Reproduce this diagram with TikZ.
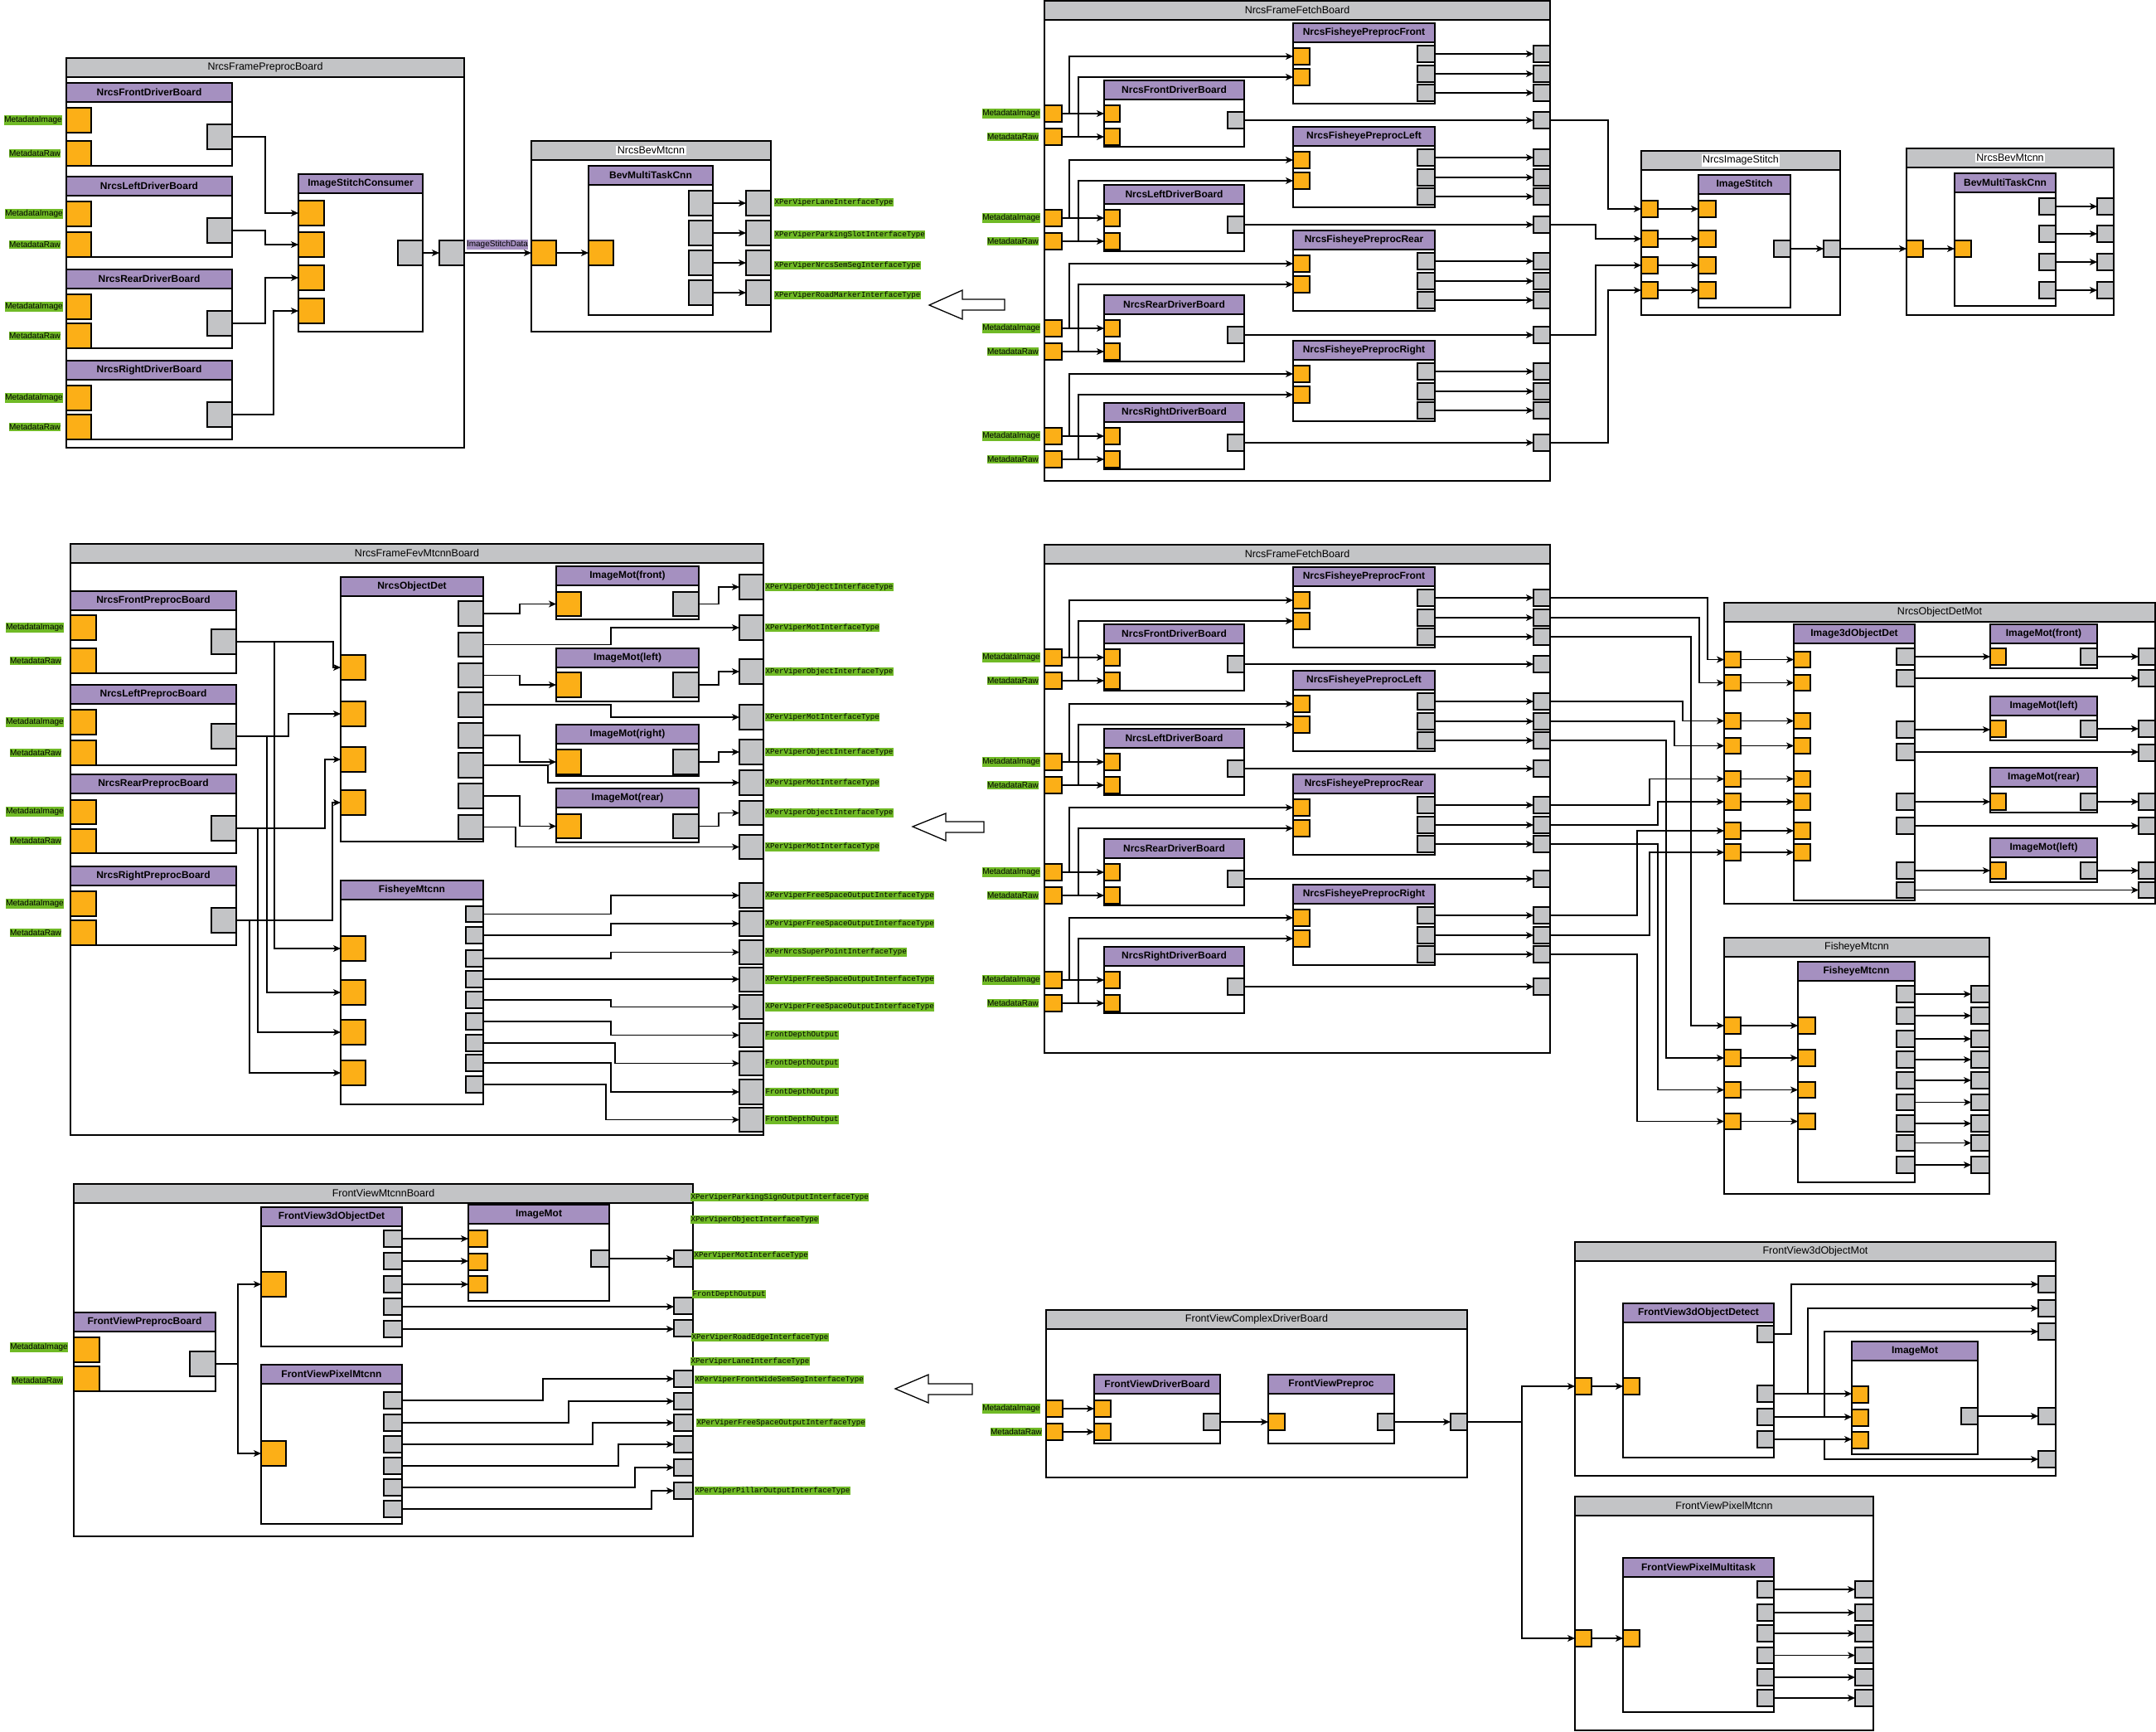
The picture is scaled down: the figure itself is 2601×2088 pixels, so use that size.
\documentclass[tikz,border=0pt]{standalone}
\usepackage{fontspec}
\setmainfont{Liberation Sans}
\newfontfamily\monofont{Liberation Mono}
\usetikzlibrary{arrows.meta}
\definecolor{hgray}{RGB}{195,196,198}
\definecolor{lpurple}{RGB}{165,144,192}
\definecolor{porange}{RGB}{252,175,23}
\definecolor{lgreen}{RGB}{112,186,38}

\tikzset{
  lanebody/.style={draw=black, line width=1.3pt, fill=white, inner sep=0pt, outer sep=0pt},
  grayhead/.style={draw=black, line width=1.3pt, fill=hgray, inner sep=0pt, outer sep=0pt, font=\fontsize{12.5}{14}\selectfont},
  purphead/.style={draw=black, line width=1.3pt, fill=lpurple, inner sep=0pt, outer sep=0pt, font=\fontsize{12}{14}\selectfont\bfseries},
  oport/.style={draw=black, line width=1.2pt, fill=porange, inner sep=0pt, outer sep=0pt},
  gport/.style={draw=black, line width=1.2pt, fill=hgray, inner sep=0pt, outer sep=0pt},
  conn/.style={draw=black, line width=1.1pt, -{Stealth[length=9pt,width=8pt,inset=2.5pt]}},
  mlbl/.style={fill=lgreen, inner xsep=0.5pt, inner ysep=1pt, font=\fontsize{10}{11}\selectfont},
  tlbl/.style={fill=lgreen, inner xsep=0.5pt, inner ysep=1pt, anchor=west, font=\monofont\fontsize{9.15}{10}\selectfont},
  plbl/.style={fill=lpurple, inner xsep=0.5pt, inner ysep=1pt, font=\fontsize{10}{11}\selectfont},
  wtitle/.style={fill=white, inner sep=1.5pt, font=\fontsize{12.5}{14}\selectfont},
  hollow/.style={draw=black, line width=1.3pt, fill=white, line join=miter},
}

% container with a 23pt title bar: name, x1, y1, x2, y2, title style, title
\newcommand\lane[7]{%
  \node[lanebody, minimum width={(#4)-(#2)}, minimum height={(#5)-(#3)}, anchor=north west] (#1) at (#2,#3) {};
  \node[#6, minimum width={(#4)-(#2)}, minimum height=23, anchor=north west] (#1h) at (#2,#3) {#7};}
% port square: style, name, x1, y1, x2, y2
\newcommand\prt[6]{%
  \node[#1, minimum width={(#5)-(#3)}, minimum height={(#6)-(#4)}, anchor=north west] (#2) at (#3,#4) {};}
% elbow connector through a vertical at x = #2
\newcommand\conhv[3]{\draw[conn] (#1.east) -- (#1.east -| #2,0) |- (#3.west);}
% straight horizontal connector
\newcommand\conhh[2]{\draw[conn] (#1.east) -- (#1.east -| #2.west);}

% one camera group of a fetch board: prefix, index, driver top, fisheye top, side
\newcommand\fetchgroup[5]{%
  \lane{#1d#2}{1332}{#3}{1501}{#3+80}{purphead}{Nrcs#5DriverBoard}
  \lane{#1f#2}{1560}{#4}{1731}{#4+97}{purphead}{NrcsFisheyePreproc#5}
  \prt{oport}{#1i#2}{1260}{#3+30}{1281}{#3+50}
  \prt{oport}{#1r#2}{1260}{#3+58}{1281}{#3+78}
  \prt{oport}{#1da#2}{1332}{#3+30}{1351}{#3+50}
  \prt{oport}{#1db#2}{1332}{#3+58}{1351}{#3+78}
  \prt{gport}{#1do#2}{1481}{#3+38}{1501}{#3+58}
  \prt{oport}{#1fa#2}{1560}{#4+30}{1580}{#4+50}
  \prt{oport}{#1fb#2}{1560}{#4+55}{1580}{#4+75}
  \prt{gport}{#1fo#2a}{1710}{#4+27}{1731}{#4+47}
  \prt{gport}{#1fo#2b}{1710}{#4+51}{1731}{#4+71}
  \prt{gport}{#1fo#2c}{1710}{#4+74}{1731}{#4+94}
  \prt{gport}{#1bo#2a}{1850}{#4+27}{1870}{#4+47}
  \prt{gport}{#1bo#2b}{1850}{#4+51}{1870}{#4+71}
  \prt{gport}{#1bo#2c}{1850}{#4+74}{1870}{#4+94}
  \prt{gport}{#1bo#2d}{1850}{#3+38}{1870}{#3+58}
  \node[mlbl] (#1li#2) at (1220,#3+40) {MetadataImage};
  \node[mlbl] (#1lr#2) at (1222,#3+68) {MetadataRaw};
  \conhh{#1i#2}{#1da#2}
  \conhh{#1r#2}{#1db#2}
  \conhv{#1i#2}{1290}{#1fa#2}
  \conhv{#1r#2}{1301}{#1fb#2}
  \conhh{#1fo#2a}{#1bo#2a}
  \conhh{#1fo#2b}{#1bo#2b}
  \conhh{#1fo#2c}{#1bo#2c}
  \conhh{#1do#2}{#1bo#2d}}

% full fetch board: prefix, vertical offset, bottom edge
\newcommand\fetchboard[3]{%
  \begin{scope}[yshift=-#2pt]
    \lane{#1}{1260}{1}{1870}{#3}{grayhead}{NrcsFrameFetchBoard}
    \fetchgroup{#1}{1}{97}{28}{Front}
    \fetchgroup{#1}{2}{223}{153}{Left}
    \fetchgroup{#1}{3}{356}{278}{Rear}
    \fetchgroup{#1}{4}{486}{411}{Right}
  \end{scope}}

\begin{document}
\begin{tikzpicture}[x=1pt, y=-1pt]
\fill[white] (0,0) rectangle (2601,2088);
\useasboundingbox (0,0) rectangle (2601,2088);

%% ---------------- NrcsFramePreprocBoard ----------------
\lane{pb}{80}{70}{560}{540}{grayhead}{NrcsFramePreprocBoard}
\lane{pbf}{80}{100}{280}{200}{purphead}{NrcsFrontDriverBoard}
\lane{pbl}{80}{213}{280}{310}{purphead}{NrcsLeftDriverBoard}
\lane{pbr}{80}{325}{280}{420}{purphead}{NrcsRearDriverBoard}
\lane{pbs}{80}{435}{280}{530}{purphead}{NrcsRightDriverBoard}
\lane{pbc}{360}{210}{510}{400}{purphead}{ImageStitchConsumer}
\prt{oport}{pbfi}{80}{130}{110}{160}
\prt{oport}{pbfr}{80}{170}{110}{200}
\prt{gport}{pbfo}{250}{150}{280}{180}
\prt{oport}{pbli}{80}{243}{110}{273}
\prt{oport}{pblr}{80}{280}{110}{310}
\prt{gport}{pblo}{250}{263}{280}{293}
\prt{oport}{pbri}{80}{355}{110}{385}
\prt{oport}{pbrr}{80}{390}{110}{420}
\prt{gport}{pbro}{250}{375}{280}{405}
\prt{oport}{pbsi}{80}{465}{110}{495}
\prt{oport}{pbsr}{80}{500}{110}{530}
\prt{gport}{pbso}{250}{485}{280}{515}
\prt{oport}{pbc1}{360}{242}{391}{272}
\prt{oport}{pbc2}{360}{280}{391}{310}
\prt{oport}{pbc3}{360}{320}{391}{350}
\prt{oport}{pbc4}{360}{360}{391}{390}
\prt{gport}{pbco}{480}{290}{510}{320}
\prt{gport}{pbout}{530}{290}{560}{320}
\node[mlbl] (pbfiL) at (40,145) {MetadataImage};
\node[mlbl] (pbfrL) at (42,185) {MetadataRaw};
\node[mlbl] (pbliL) at (41,258) {MetadataImage};
\node[mlbl] (pblrL) at (42,295) {MetadataRaw};
\node[mlbl] (pbriL) at (41,370) {MetadataImage};
\node[mlbl] (pbrrL) at (42,405) {MetadataRaw};
\node[mlbl] (pbsiL) at (41,480) {MetadataImage};
\node[mlbl] (pbsrL) at (42,515) {MetadataRaw};
\conhv{pbfo}{320}{pbc1}
\conhv{pblo}{320}{pbc2}
\conhv{pbro}{320}{pbc3}
\conhv{pbso}{330}{pbc4}
\conhh{pbco}{pbout}

%% ---------------- NrcsBevMtcnn (left) ----------------
\lane{bv}{641}{170}{930}{400}{grayhead}{}
\node[wtitle] (bvt) at (bvh) {NrcsBevMtcnn};
\lane{bvc}{710}{200}{860}{380}{purphead}{BevMultiTaskCnn}
\prt{oport}{bvin}{641}{290}{671}{320}
\prt{oport}{bvci}{710}{290}{740}{320}
\prt{gport}{bvc1}{831}{230}{860}{260}
\prt{gport}{bvc2}{831}{266}{860}{296}
\prt{gport}{bvc3}{831}{302}{860}{332}
\prt{gport}{bvc4}{831}{338}{860}{368}
\prt{gport}{bvo1}{900}{230}{930}{260}
\prt{gport}{bvo2}{900}{266}{930}{296}
\prt{gport}{bvo3}{900}{302}{930}{332}
\prt{gport}{bvo4}{900}{338}{930}{368}
\conhh{pbout}{bvin}
\node[plbl] (isd) at (600,295) {ImageStitchData};
\conhh{bvin}{bvci}
\conhh{bvc1}{bvo1}
\conhh{bvc2}{bvo2}
\conhh{bvc3}{bvo3}
\conhh{bvc4}{bvo4}
\node[tlbl] (bvl1) at (934,244) {XPerViperLaneInterfaceType};
\node[tlbl] (bvl2) at (934,283) {XPerViperParkingSlotInterfaceType};
\node[tlbl] (bvl3) at (934,320) {XPerViperNrcsSemSegInterfaceType};
\node[tlbl] (bvl4) at (934,356) {XPerViperRoadMarkerInterfaceType};

%% hollow arrows between the rows
\draw[hollow] (1121,368) -- (1161,350) -- (1161,361) -- (1212,361) -- (1212,374) -- (1161,374) -- (1161,385) -- cycle;
\draw[hollow] (1101,997) -- (1141,981) -- (1141,991) -- (1187,991) -- (1187,1004) -- (1141,1004) -- (1141,1014) -- cycle;
\draw[hollow] (1080,1675) -- (1120,1658) -- (1120,1669) -- (1173,1669) -- (1173,1682) -- (1120,1682) -- (1120,1692) -- cycle;

%% ---------------- NrcsFrameFetchBoard (top) ----------------
\fetchboard{t}{0}{580}

%% ---------------- NrcsImageStitch ----------------
\lane{st}{1980}{182}{2220}{380}{grayhead}{}
\node[wtitle] (stt) at (sth) {NrcsImageStitch};
\lane{stc}{2049}{211}{2160}{371}{purphead}{ImageStitch}
\prt{oport}{isi1}{1980}{242}{2000}{262}
\prt{oport}{isi2}{1980}{278}{2000}{298}
\prt{oport}{isi3}{1980}{310}{2000}{330}
\prt{oport}{isi4}{1980}{340}{2000}{360}
\prt{oport}{stc1}{2049}{242}{2070}{262}
\prt{oport}{stc2}{2049}{278}{2070}{298}
\prt{oport}{stc3}{2049}{310}{2070}{330}
\prt{oport}{stc4}{2049}{340}{2070}{360}
\prt{gport}{stco}{2140}{290}{2160}{310}
\prt{gport}{sto}{2200}{290}{2220}{310}
\conhh{isi1}{stc1}
\conhh{isi2}{stc2}
\conhh{isi3}{stc3}
\conhh{isi4}{stc4}
\conhh{stco}{sto}
\conhv{tbo1d}{1940}{isi1}
\conhv{tbo2d}{1925}{isi2}
\conhv{tbo3d}{1925}{isi3}
\conhv{tbo4d}{1940}{isi4}

%% ---------------- NrcsBevMtcnn (right) ----------------
\lane{rb}{2300}{179}{2550}{380}{grayhead}{}
\node[wtitle] (rbt) at (rbh) {NrcsBevMtcnn};
\lane{rbc}{2358}{209}{2480}{369}{purphead}{BevMultiTaskCnn}
\prt{oport}{rbi}{2300}{290}{2320}{310}
\prt{oport}{rbci}{2358}{290}{2378}{310}
\prt{gport}{rbc1}{2460}{239}{2480}{259}
\prt{gport}{rbc2}{2460}{272}{2480}{292}
\prt{gport}{rbc3}{2460}{306}{2480}{326}
\prt{gport}{rbc4}{2460}{340}{2480}{360}
\prt{gport}{rbo1}{2530}{239}{2550}{259}
\prt{gport}{rbo2}{2530}{272}{2550}{292}
\prt{gport}{rbo3}{2530}{306}{2550}{326}
\prt{gport}{rbo4}{2530}{340}{2550}{360}
\conhh{sto}{rbi}
\conhh{rbi}{rbci}
\conhh{rbc1}{rbo1}
\conhh{rbc2}{rbo2}
\conhh{rbc3}{rbo3}
\conhh{rbc4}{rbo4}

%% ---------------- NrcsFrameFevMtcnnBoard ----------------
\lane{fb}{85}{656}{921}{1369}{grayhead}{NrcsFrameFevMtcnnBoard}
\lane{fpf}{85}{713}{285}{812}{purphead}{NrcsFrontPreprocBoard}
\lane{fpl}{85}{826}{285}{923}{purphead}{NrcsLeftPreprocBoard}
\lane{fpr}{85}{934}{285}{1029}{purphead}{NrcsRearPreprocBoard}
\lane{fps}{85}{1045}{285}{1140}{purphead}{NrcsRightPreprocBoard}
\lane{od}{411}{696}{583}{1015}{purphead}{NrcsObjectDet}
\lane{imf}{671}{683}{843}{747}{purphead}{ImageMot(front)}
\lane{iml}{671}{782}{843}{846}{purphead}{ImageMot(left)}
\lane{imr}{671}{874}{843}{936}{purphead}{ImageMot(right)}
\lane{imb}{671}{951}{843}{1016}{purphead}{ImageMot(rear)}
\lane{fm}{411}{1062}{583}{1332}{purphead}{FisheyeMtcnn}
\prt{oport}{fpfi}{85}{742}{116}{772}
\prt{oport}{fpfr}{85}{782}{116}{812}
\prt{gport}{fpfo}{255}{759}{285}{789}
\prt{oport}{fpli}{85}{856}{116}{886}
\prt{oport}{fplr}{85}{893}{116}{923}
\prt{gport}{fplo}{255}{873}{285}{903}
\prt{oport}{fpri}{85}{965}{116}{994}
\prt{oport}{fprr}{85}{1000}{116}{1029}
\prt{gport}{fpro}{255}{984}{285}{1014}
\prt{oport}{fpsi}{85}{1075}{116}{1105}
\prt{oport}{fpsr}{85}{1110}{116}{1140}
\prt{gport}{fpso}{255}{1095}{285}{1125}
\node[mlbl] (fpfiL) at (42,757) {MetadataImage};
\node[mlbl] (fpfrL) at (43,797) {MetadataRaw};
\node[mlbl] (fpliL) at (42,871) {MetadataImage};
\node[mlbl] (fplrL) at (43,908) {MetadataRaw};
\node[mlbl] (fpriL) at (42,979) {MetadataImage};
\node[mlbl] (fprrL) at (43,1014) {MetadataRaw};
\node[mlbl] (fpsiL) at (42,1090) {MetadataImage};
\node[mlbl] (fpsrL) at (43,1125) {MetadataRaw};
\prt{oport}{oda1}{411}{790}{441}{820}
\prt{oport}{oda2}{411}{846}{441}{876}
\prt{oport}{oda3}{411}{901}{441}{931}
\prt{oport}{oda4}{411}{953}{441}{983}
\prt{gport}{odg1}{553}{725}{583}{755}
\prt{gport}{odg2}{553}{763}{583}{792}
\prt{gport}{odg3}{553}{800}{583}{829}
\prt{gport}{odg4}{553}{835}{583}{865}
\prt{gport}{odg5}{553}{872}{583}{902}
\prt{gport}{odg6}{553}{908}{583}{938}
\prt{gport}{odg7}{553}{945}{583}{975}
\prt{gport}{odg8}{553}{983}{583}{1012}
\prt{oport}{imfi}{671}{714}{701}{743}
\prt{gport}{imfo}{812}{714}{843}{743}
\prt{oport}{imli}{671}{811}{701}{841}
\prt{gport}{imlo}{812}{811}{843}{841}
\prt{oport}{imri}{671}{904}{701}{934}
\prt{gport}{imro}{812}{904}{843}{934}
\prt{oport}{imbi}{671}{982}{701}{1011}
\prt{gport}{imbo}{812}{982}{843}{1011}
\prt{oport}{fma1}{411}{1129}{441}{1159}
\prt{oport}{fma2}{411}{1182}{441}{1212}
\prt{oport}{fma3}{411}{1230}{441}{1260}
\prt{oport}{fma4}{411}{1279}{441}{1309}
\prt{gport}{fmg1}{562}{1093}{583}{1112}
\prt{gport}{fmg2}{562}{1118}{583}{1138}
\prt{gport}{fmg3}{562}{1146}{583}{1166}
\prt{gport}{fmg4}{562}{1171}{583}{1191}
\prt{gport}{fmg5}{562}{1196}{583}{1216}
\prt{gport}{fmg6}{562}{1222}{583}{1242}
\prt{gport}{fmg7}{562}{1248}{583}{1268}
\prt{gport}{fmg8}{562}{1272}{583}{1292}
\prt{gport}{fmg9}{562}{1298}{583}{1318}
\prt{gport}{fbo1}{892}{693}{921}{723}
\prt{gport}{fbo2}{892}{742}{921}{772}
\prt{gport}{fbo3}{892}{795}{921}{825}
\prt{gport}{fbo4}{892}{850}{921}{880}
\prt{gport}{fbo5}{892}{892}{921}{922}
\prt{gport}{fbo6}{892}{929}{921}{959}
\prt{gport}{fbo7}{892}{966}{921}{995}
\prt{gport}{fbo8}{892}{1007}{921}{1036}
\prt{gport}{fbo9}{892}{1065}{921}{1095}
\prt{gport}{fbo10}{892}{1099}{921}{1129}
\prt{gport}{fbo11}{892}{1134}{921}{1163}
\prt{gport}{fbo12}{892}{1167}{921}{1196}
\prt{gport}{fbo13}{892}{1200}{921}{1229}
\prt{gport}{fbo14}{892}{1234}{921}{1263}
\prt{gport}{fbo15}{892}{1268}{921}{1297}
\prt{gport}{fbo16}{892}{1302}{921}{1332}
\prt{gport}{fbo17}{892}{1336}{921}{1365}
\conhv{fpfo}{402}{oda1}
\conhv{fpfo}{331}{fma1}
\conhv{fplo}{348}{oda2}
\conhv{fplo}{322}{fma2}
\conhv{fpro}{392}{oda3}
\conhv{fpro}{311}{fma3}
\conhv{fpso}{401}{oda4}
\conhv{fpso}{301}{fma4}
\conhv{odg1}{627}{imfi}
\conhv{odg2}{737}{fbo2}
\conhv{odg3}{627}{imli}
\conhv{odg4}{737}{fbo4}
\conhv{odg5}{627}{imri}
\conhv{odg6}{661}{fbo6}
\conhv{odg7}{627}{imbi}
\conhv{odg8}{622}{fbo8}
\conhv{imfo}{867}{fbo1}
\conhv{imlo}{867}{fbo3}
\conhv{imro}{867}{fbo5}
\conhv{imbo}{867}{fbo7}
\conhv{fmg1}{737}{fbo9}
\conhv{fmg2}{737}{fbo10}
\conhv{fmg3}{737}{fbo11}
\conhh{fmg4}{fbo12}
\conhv{fmg5}{737}{fbo13}
\conhv{fmg6}{737}{fbo14}
\conhv{fmg7}{742}{fbo15}
\conhv{fmg8}{737}{fbo16}
\conhv{fmg9}{731}{fbo17}
\node[tlbl, xshift=2pt] (fbl1) at (fbo1.east) {XPerViperObjectInterfaceType};
\node[tlbl, xshift=2pt] (fbl2) at (fbo2.east) {XPerViperMotInterfaceType};
\node[tlbl, xshift=2pt] (fbl3) at (fbo3.east) {XPerViperObjectInterfaceType};
\node[tlbl, xshift=2pt] (fbl4) at (fbo4.east) {XPerViperMotInterfaceType};
\node[tlbl, xshift=2pt] (fbl5) at (fbo5.east) {XPerViperObjectInterfaceType};
\node[tlbl, xshift=2pt] (fbl6) at (fbo6.east) {XPerViperMotInterfaceType};
\node[tlbl, xshift=2pt] (fbl7) at (fbo7.east) {XPerViperObjectInterfaceType};
\node[tlbl, xshift=2pt] (fbl8) at (fbo8.east) {XPerViperMotInterfaceType};
\node[tlbl, xshift=2pt] (fbl9) at (fbo9.east) {XPerViperFreeSpaceOutputInterfaceType};
\node[tlbl, xshift=2pt] (fbl10) at (fbo10.east) {XPerViperFreeSpaceOutputInterfaceType};
\node[tlbl, xshift=2pt] (fbl11) at (fbo11.east) {XPerNrcsSuperPointInterfaceType};
\node[tlbl, xshift=2pt] (fbl12) at (fbo12.east) {XPerViperFreeSpaceOutputInterfaceType};
\node[tlbl, xshift=2pt] (fbl13) at (fbo13.east) {XPerViperFreeSpaceOutputInterfaceType};
\node[tlbl, xshift=2pt] (fbl14) at (fbo14.east) {FrontDepthOutput};
\node[tlbl, xshift=2pt] (fbl15) at (fbo15.east) {FrontDepthOutput};
\node[tlbl, xshift=2pt] (fbl16) at (fbo16.east) {FrontDepthOutput};
\node[tlbl, xshift=2pt] (fbl17) at (fbo17.east) {FrontDepthOutput};

%% ---------------- NrcsFrameFetchBoard (middle) ----------------
\fetchboard{m}{656}{614}

%% ---------------- NrcsObjectDetMot ----------------
\lane{odm}{2080}{727}{2600}{1090}{grayhead}{NrcsObjectDetMot}
\lane{odc}{2164}{753}{2310}{1086}{purphead}{Image3dObjectDet}
\lane{odm1}{2401}{753}{2530}{806}{purphead}{ImageMot(front)}
\lane{odm2}{2401}{840}{2530}{893}{purphead}{ImageMot(left)}
\lane{odm3}{2401}{926}{2530}{980}{purphead}{ImageMot(rear)}
\lane{odm4}{2401}{1011}{2530}{1064}{purphead}{ImageMot(left)}
\prt{oport}{odi1}{2080}{786}{2100}{805}
\prt{oport}{odi2}{2080}{814}{2100}{833}
\prt{oport}{odi3}{2080}{860}{2100}{879}
\prt{oport}{odi4}{2080}{890}{2100}{909}
\prt{oport}{odi5}{2080}{930}{2100}{949}
\prt{oport}{odi6}{2080}{957}{2100}{977}
\prt{oport}{odi7}{2080}{992}{2100}{1012}
\prt{oport}{odi8}{2080}{1018}{2100}{1038}
\prt{oport}{odca1}{2164}{786}{2184}{805}
\prt{oport}{odca2}{2164}{814}{2184}{833}
\prt{oport}{odca3}{2164}{860}{2184}{879}
\prt{oport}{odca4}{2164}{890}{2184}{909}
\prt{oport}{odca5}{2164}{930}{2184}{949}
\prt{oport}{odca6}{2164}{957}{2184}{977}
\prt{oport}{odca7}{2164}{992}{2184}{1012}
\prt{oport}{odca8}{2164}{1018}{2184}{1038}
\prt{gport}{odcg1}{2288}{782}{2310}{802}
\prt{gport}{odcg2}{2288}{808}{2310}{828}
\prt{gport}{odcg3}{2288}{870}{2310}{890}
\prt{gport}{odcg4}{2288}{897}{2310}{917}
\prt{gport}{odcg5}{2288}{957}{2310}{977}
\prt{gport}{odcg6}{2288}{986}{2310}{1006}
\prt{gport}{odcg7}{2288}{1040}{2310}{1060}
\prt{gport}{odcg8}{2288}{1064}{2310}{1083}
\prt{oport}{odm1i}{2401}{782}{2420}{802}
\prt{gport}{odm1o}{2510}{782}{2530}{802}
\prt{oport}{odm2i}{2401}{869}{2420}{889}
\prt{gport}{odm2o}{2510}{869}{2530}{889}
\prt{oport}{odm3i}{2401}{957}{2420}{977}
\prt{gport}{odm3o}{2510}{957}{2530}{977}
\prt{oport}{odm4i}{2401}{1040}{2420}{1060}
\prt{gport}{odm4o}{2510}{1040}{2530}{1060}
\prt{gport}{odo1}{2580}{782}{2600}{802}
\prt{gport}{odo2}{2580}{808}{2600}{828}
\prt{gport}{odo3}{2580}{869}{2600}{889}
\prt{gport}{odo4}{2580}{898}{2600}{918}
\prt{gport}{odo5}{2580}{957}{2600}{977}
\prt{gport}{odo6}{2580}{986}{2600}{1006}
\prt{gport}{odo7}{2580}{1040}{2600}{1060}
\prt{gport}{odo8}{2580}{1064}{2600}{1083}
\conhh{odi1}{odca1}
\conhh{odi2}{odca2}
\conhh{odi3}{odca3}
\conhh{odi4}{odca4}
\conhh{odi5}{odca5}
\conhh{odi6}{odca6}
\conhh{odi7}{odca7}
\conhh{odi8}{odca8}
\conhh{odcg1}{odm1i}
\conhh{odm1o}{odo1}
\conhh{odcg2}{odo2}
\conhh{odcg3}{odm2i}
\conhh{odm2o}{odo3}
\conhh{odcg4}{odo4}
\conhh{odcg5}{odm3i}
\conhh{odm3o}{odo5}
\conhh{odcg6}{odo6}
\conhh{odcg7}{odm4i}
\conhh{odm4o}{odo7}
\conhh{odcg8}{odo8}

%% ---------------- FisheyeMtcnn (right) ----------------
\lane{fr}{2080}{1131}{2400}{1440}{grayhead}{FisheyeMtcnn}
\lane{frc}{2169}{1160}{2310}{1426}{purphead}{FisheyeMtcnn}
\prt{oport}{fmi1}{2080}{1227}{2100}{1247}
\prt{oport}{fmi2}{2080}{1266}{2100}{1286}
\prt{oport}{fmi3}{2080}{1305}{2100}{1324}
\prt{oport}{fmi4}{2080}{1343}{2100}{1362}
\prt{oport}{frca1}{2169}{1227}{2190}{1247}
\prt{oport}{frca2}{2169}{1266}{2190}{1286}
\prt{oport}{frca3}{2169}{1305}{2190}{1324}
\prt{oport}{frca4}{2169}{1343}{2190}{1362}
\conhh{fmi1}{frca1}
\conhh{fmi2}{frca2}
\conhh{fmi3}{frca3}
\conhh{fmi4}{frca4}
\foreach \k/\ya/\yb in {1/1189/1209, 2/1215/1235, 3/1243/1263, 4/1268/1288, 5/1293/1313, 6/1320/1339, 7/1345/1365, 8/1369/1388, 9/1395/1415}{
  \prt{gport}{frg\k}{2288}{\ya}{2310}{\yb}
  \prt{gport}{fro\k}{2378}{\ya}{2400}{\yb}
  \conhh{frg\k}{fro\k}
}

%% routes from the middle fetch board
\conhv{mbo1a}{2060}{odi1}
\conhv{mbo1b}{2050}{odi2}
\conhv{mbo1c}{2040}{fmi1}
\conhv{mbo2a}{2030}{odi3}
\conhv{mbo2b}{2020}{odi4}
\conhv{mbo2c}{2010}{fmi2}
\conhv{mbo3a}{1990}{odi5}
\conhv{mbo3b}{2000}{odi6}
\conhv{mbo3c}{2000}{fmi3}
\conhv{mbo4a}{1975}{odi7}
\conhv{mbo4b}{1990}{odi8}
\conhv{mbo4c}{1975}{fmi4}

%% ---------------- FrontViewMtcnnBoard ----------------
\lane{fv}{89}{1428}{836}{1853}{grayhead}{FrontViewMtcnnBoard}
\lane{fvp}{89}{1583}{260}{1678}{purphead}{FrontViewPreprocBoard}
\lane{fvd}{315}{1456}{485}{1624}{purphead}{FrontView3dObjectDet}
\lane{fvm}{565}{1453}{735}{1569}{purphead}{ImageMot}
\lane{fvx}{315}{1646}{485}{1838}{purphead}{FrontViewPixelMtcnn}
\prt{oport}{fvpi}{89}{1613}{120}{1643}
\prt{oport}{fvpr}{89}{1648}{120}{1678}
\prt{gport}{fvpo}{229}{1630}{260}{1660}
\node[mlbl] (fvpiL) at (47,1625) {MetadataImage};
\node[mlbl] (fvprL) at (45,1665) {MetadataRaw};
\prt{oport}{fvda}{315}{1534}{345}{1564}
\prt{gport}{fvdg1}{463}{1484}{485}{1504}
\prt{gport}{fvdg2}{463}{1511}{485}{1531}
\prt{gport}{fvdg3}{463}{1539}{485}{1559}
\prt{gport}{fvdg4}{463}{1566}{485}{1586}
\prt{gport}{fvdg5}{463}{1593}{485}{1613}
\prt{oport}{fvma1}{565}{1484}{588}{1504}
\prt{oport}{fvma2}{565}{1512}{588}{1532}
\prt{oport}{fvma3}{565}{1539}{588}{1559}
\prt{gport}{fvmo}{713}{1508}{735}{1528}
\prt{oport}{fvxa}{315}{1738}{345}{1768}
\prt{gport}{fvxg1}{463}{1679}{485}{1699}
\prt{gport}{fvxg2}{463}{1706}{485}{1726}
\prt{gport}{fvxg3}{463}{1732}{485}{1752}
\prt{gport}{fvxg4}{463}{1758}{485}{1778}
\prt{gport}{fvxg5}{463}{1784}{485}{1804}
\prt{gport}{fvxg6}{463}{1810}{485}{1830}
\prt{gport}{fvo1}{813}{1508}{836}{1528}
\prt{gport}{fvo2}{813}{1565}{836}{1585}
\prt{gport}{fvo3}{813}{1592}{836}{1612}
\prt{gport}{fvo4}{813}{1653}{836}{1673}
\prt{gport}{fvo5}{813}{1680}{836}{1700}
\prt{gport}{fvo6}{813}{1706}{836}{1726}
\prt{gport}{fvo7}{813}{1732}{836}{1752}
\prt{gport}{fvo8}{813}{1760}{836}{1780}
\prt{gport}{fvo9}{813}{1788}{836}{1808}
\conhv{fvpo}{287}{fvda}
\conhv{fvpo}{287}{fvxa}
\conhh{fvdg1}{fvma1}
\conhh{fvdg2}{fvma2}
\conhh{fvdg3}{fvma3}
\conhh{fvdg4}{fvo2}
\conhh{fvdg5}{fvo3}
\conhh{fvmo}{fvo1}
\conhv{fvxg1}{655}{fvo4}
\conhv{fvxg2}{686}{fvo5}
\conhv{fvxg3}{715}{fvo6}
\conhv{fvxg4}{746}{fvo7}
\conhv{fvxg5}{766}{fvo8}
\conhv{fvxg6}{786}{fvo9}
\node[tlbl] (fvl1) at (833,1444) {XPerViperParkingSignOutputInterfaceType};
\node[tlbl] (fvl2) at (833,1471) {XPerViperObjectInterfaceType};
\node[tlbl] (fvl3) at (837,1514) {XPerViperMotInterfaceType};
\node[tlbl] (fvl4) at (835,1561) {FrontDepthOutput};
\node[tlbl] (fvl5) at (834,1613) {XPerViperRoadEdgeInterfaceType};
\node[tlbl] (fvl6) at (833,1642) {XPerViperLaneInterfaceType};
\node[tlbl] (fvl7) at (838,1664) {XPerViperFrontWideSemSegInterfaceType};
\node[tlbl] (fvl8) at (840,1716) {XPerViperFreeSpaceOutputInterfaceType};
\node[tlbl] (fvl9) at (838,1798) {XPerViperPillarOutputInterfaceType};

%% ---------------- FrontViewComplexDriverBoard ----------------
\lane{cd}{1262}{1580}{1770}{1782}{grayhead}{FrontViewComplexDriverBoard}
\lane{cdd}{1320}{1658}{1472}{1741}{purphead}{FrontViewDriverBoard}
\lane{cdp}{1530}{1658}{1682}{1741}{purphead}{FrontViewPreproc}
\prt{oport}{cdi}{1262}{1689}{1282}{1709}
\prt{oport}{cdr}{1262}{1717}{1282}{1737}
\prt{oport}{cdda}{1320}{1689}{1340}{1709}
\prt{oport}{cddb}{1320}{1717}{1340}{1737}
\prt{gport}{cddo}{1452}{1705}{1472}{1725}
\prt{oport}{cdpa}{1530}{1705}{1550}{1725}
\prt{gport}{cdpo}{1662}{1705}{1682}{1725}
\prt{gport}{cdo}{1750}{1705}{1770}{1725}
\node[mlbl] (cdiL) at (1220,1699) {MetadataImage};
\node[mlbl] (cdrL) at (1226,1727) {MetadataRaw};
\conhh{cdi}{cdda}
\conhh{cdr}{cddb}
\conhh{cddo}{cdpa}
\conhh{cdpo}{cdo}

%% ---------------- FrontView3dObjectMot ----------------
\lane{om}{1900}{1498}{2480}{1780}{grayhead}{FrontView3dObjectMot}
\lane{omd}{1958}{1572}{2140}{1758}{purphead}{FrontView3dObjectDetect}
\lane{omm}{2234}{1618}{2386}{1754}{purphead}{ImageMot}
\prt{oport}{omi}{1900}{1662}{1920}{1682}
\prt{oport}{omda}{1958}{1662}{1978}{1682}
\prt{gport}{omg1}{2120}{1599}{2140}{1619}
\prt{gport}{omg2}{2120}{1671}{2140}{1691}
\prt{gport}{omg3}{2120}{1699}{2140}{1719}
\prt{gport}{omg4}{2120}{1726}{2140}{1746}
\prt{oport}{omma1}{2234}{1672}{2254}{1692}
\prt{oport}{omma2}{2234}{1700}{2254}{1720}
\prt{oport}{omma3}{2234}{1727}{2254}{1747}
\prt{gport}{ommo}{2366}{1698}{2386}{1718}
\prt{gport}{omo1}{2459}{1539}{2480}{1559}
\prt{gport}{omo2}{2459}{1568}{2480}{1588}
\prt{gport}{omo3}{2459}{1596}{2480}{1616}
\prt{gport}{omo4}{2459}{1698}{2480}{1718}
\prt{gport}{omo5}{2459}{1750}{2480}{1770}
\conhh{omi}{omda}
\conhv{omg1}{2161}{omo1}
\conhh{omg2}{omma1}
\conhv{omg2}{2181}{omo2}
\conhh{omg3}{omma2}
\conhv{omg3}{2201}{omo3}
\conhh{omg4}{omma3}
\conhv{omg4}{2201}{omo5}
\conhh{ommo}{omo4}

%% ---------------- FrontViewPixelMtcnn ----------------
\lane{pm}{1900}{1805}{2260}{2087}{grayhead}{FrontViewPixelMtcnn}
\lane{pmc}{1958}{1879}{2140}{2065}{purphead}{FrontViewPixelMultitask}
\prt{oport}{pmi}{1900}{1966}{1920}{1986}
\prt{oport}{pmca}{1958}{1966}{1978}{1986}
\conhh{pmi}{pmca}
\foreach \k/\ya/\yb in {1/1907/1927, 2/1935/1955, 3/1960/1980, 4/1987/2006, 5/2013/2033, 6/2038/2058}{
  \prt{gport}{pmg\k}{2120}{\ya}{2140}{\yb}
  \prt{gport}{pmo\k}{2238}{\ya}{2260}{\yb}
  \conhh{pmg\k}{pmo\k}
}
\conhv{cdo}{1836}{omi}
\conhv{cdo}{1836}{pmi}
\end{tikzpicture}
\end{document}
